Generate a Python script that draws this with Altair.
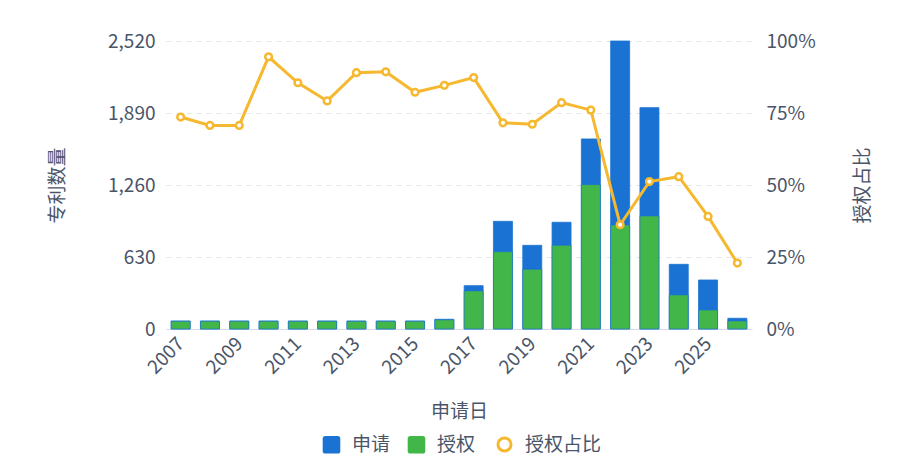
import altair as alt
import pandas as pd

years = list(range(2007, 2027))
applications = [70, 70, 70, 70, 70, 70, 70, 70, 70, 85, 379, 942, 732, 934, 1663, 2520, 1937, 566, 429, 94]
grants = [68, 68, 68, 68, 68, 68, 68, 68, 68, 80, 333, 676, 522, 732, 1263, 910, 989, 298, 166, 70]
grant_ratio = [0.736, 0.707, 0.707, 0.945, 0.855, 0.792, 0.890, 0.893, 0.822, 0.846,
               0.873, 0.716, 0.711, 0.786, 0.760, 0.362, 0.512, 0.529, 0.391, 0.229]
left_ticks = [0, 630, 1260, 1890, 2520]
right_ticks = [0, 0.25, 0.5, 0.75, 1.0]
x_label_years = list(range(2007, 2027, 2))

bar_series = ["申请", "授权"]
bar_colors = ["#1a73d3", "#43b649"]
line_series = ["授权占比"]
line_colors = ["#f5b82e"]
TEXT = "#4a5568"
FONT = "Noto Sans CJK SC"
ROUNDED_SQUARE = "M-0.7,-1H0.7Q1,-1,1,-0.7V0.7Q1,1,0.7,1H-0.7Q-1,1,-1,0.7V-0.7Q-1,-1,-0.7,-1Z"

df = pd.DataFrame({"year": years, "申请": applications, "授权": grants, "ratio": grant_ratio})

bar_scale = alt.Scale(domain=bar_series, range=bar_colors)
line_scale = alt.Scale(domain=line_series, range=line_colors)

bar_legend = alt.Legend(
    title=None, orient="none", direction="horizontal", legendX=156, legendY=394,
    labelFontSize=19, labelColor=TEXT, labelFont=FONT, labelOffset=11, labelLimit=300,
    columnPadding=16, symbolSize=310, symbolType=ROUNDED_SQUARE, symbolStrokeWidth=0,
)
line_legend = alt.Legend(
    title=None, orient="none", direction="horizontal", legendX=329, legendY=394,
    labelFontSize=19, labelColor=TEXT, labelFont=FONT, labelOffset=11, labelLimit=300,
    symbolSize=170, symbolType="circle", symbolFillColor="#ffffff", symbolStrokeWidth=3,
)

x_enc = alt.X(
    "year:O",
    scale=alt.Scale(paddingInner=0.35, paddingOuter=0.175),
    axis=alt.Axis(
        title="申请日", values=x_label_years, labelAngle=-45, labelFontSize=19,
        labelColor=TEXT, labelPadding=5, labelOffset=-6, ticks=False, domainColor="#d9dde3",
        titleFontSize=19, titleColor=TEXT, titleFontWeight="normal",
        titleY=82, titleBaseline="middle", grid=False,
    ),
)

y_left = alt.Scale(domain=[0, 2520], nice=False)
left_axis = alt.Axis(
    title="专利数量", values=left_ticks, format=",.0f", labelFontSize=19, labelColor=TEXT,
    labelPadding=11, ticks=False, domain=False, grid=True, gridColor="#e3e6ea",
    gridDash=[5, 5], titleFontSize=19, titleColor=TEXT, titleFontWeight="normal",
    titleX=-109, titleY=144, titleBaseline="middle", titleAngle=-90,
)

base = alt.Chart(df)

bar_app = base.mark_bar(size=19, stroke="#1a73d3", strokeWidth=0.8).transform_calculate(
    series="'申请'"
).encode(
    x=x_enc,
    y=alt.Y("申请:Q", scale=y_left, axis=left_axis),
    color=alt.Color("series:N", scale=bar_scale, legend=bar_legend),
)
bar_grant = base.mark_bar(size=19, stroke="#1a73d3", strokeWidth=0.6).transform_calculate(
    series="'授权'"
).encode(
    x=x_enc,
    y=alt.Y("授权:Q", scale=y_left),
    color=alt.Color("series:N", scale=bar_scale, legend=bar_legend),
)
bars = alt.layer(bar_app, bar_grant)

y_right = alt.Scale(domain=[0, 1], nice=False)
right_axis = alt.Axis(
    title="授权占比", orient="right", values=right_ticks, format=".0%", labelFontSize=19,
    labelColor=TEXT, labelPadding=14, ticks=False, domain=False, grid=False,
    titleFontSize=19, titleColor=TEXT, titleFontWeight="normal",
    titleX=110, titleY=144, titleBaseline="middle", titleAngle=-90,
)
line = base.mark_line(strokeWidth=3).transform_calculate(
    lseries="'授权占比'"
).encode(
    x=x_enc,
    y=alt.Y("ratio:Q", scale=y_right, axis=right_axis),
    stroke=alt.Stroke("lseries:N", scale=line_scale, legend=line_legend),
)
pts = base.mark_point(filled=False, fill="white", size=45, strokeWidth=2.5, opacity=1).transform_calculate(
    lseries="'授权占比'"
).encode(
    x=x_enc,
    y=alt.Y("ratio:Q", scale=y_right),
    stroke=alt.Stroke("lseries:N", scale=line_scale, legend=line_legend),
)
ratio_layer = alt.layer(line, pts)

chart = alt.layer(bars, ratio_layer).resolve_scale(y="independent").properties(
    width=586, height=288,
    autosize=alt.AutoSizeParams(type="none"),
    padding={"left": 158, "top": 33, "right": 140, "bottom": 125},
).configure(font=FONT).configure_view(stroke=None)

chart.save("out.html", embed_options={"renderer": "svg", "actions": False})
